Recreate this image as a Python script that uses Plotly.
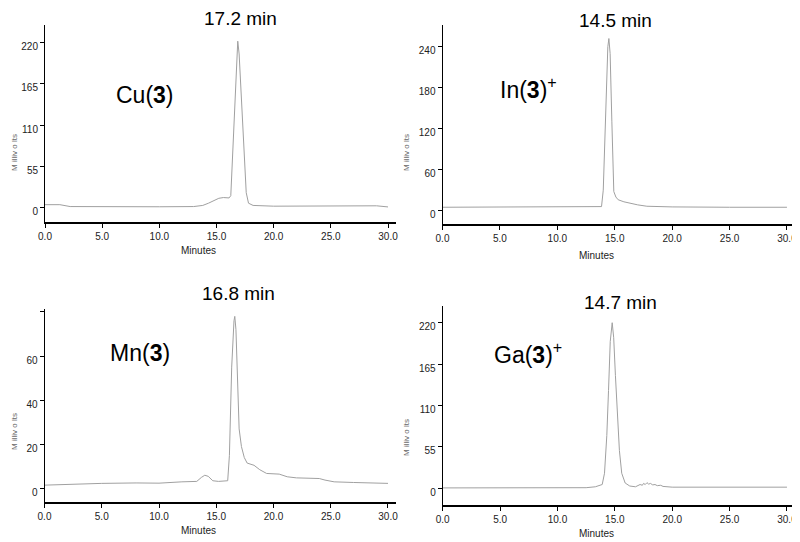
import plotly.graph_objects as go

# page body has an 8px margin: draw a 792x534 figure so it fills the 800x542 window
OFF = 8
W, H = 800 - OFF, 542 - OFF

# ---------------- data (minutes, millivolts) ----------------
cu_t = [0, 1.3, 2.2, 5, 10, 13, 13.8, 14.3, 14.8, 15.2, 15.6, 16.1, 16.25, 16.5, 16.75, 16.86,
        16.98, 17.3, 17.6, 17.8, 18.2, 20, 25, 26, 28, 29, 30]
cu_mv = [4, 4, 1.5, 1.2, 1.2, 1.5, 3, 6, 10, 12.5, 13.5, 13, 16, 110, 205, 222,
         205, 110, 20, 6, 3, 2, 2, 3, 3, 2.5, 1]

in_t = [0, 5, 10, 13.5, 13.85, 14.0, 14.2, 14.4, 14.49, 14.6, 14.75, 14.92, 15.1, 15.3, 15.8,
        16.3, 17.0, 17.8, 20, 25, 30]
in_mv = [5, 5, 5, 5, 6, 30, 140, 240, 252, 230, 130, 28, 20, 16, 13,
         11, 8.5, 6.5, 5.5, 5, 5]

mn_t = [0, 2, 3, 5, 8, 10, 12, 13.3, 13.7, 14.0, 14.3, 14.7, 15.2, 16.0, 16.15, 16.35, 16.55,
        16.62, 16.72, 16.85, 17.0, 17.2, 17.45, 17.7, 18.3, 18.8, 19.4, 20.5, 21.2, 22, 24,
        24.5, 25.3, 27, 30]
mn_mv = [1.5, 1.8, 2.2, 2.3, 2.5, 2.4, 3, 3.2, 5, 6, 5.5, 3.5, 3.2, 3.5, 15, 55, 76,
         78, 72, 45, 27, 19, 14, 11.5, 10.5, 8.5, 6.8, 6.5, 5.3, 4.8, 4.5,
         3.8, 3, 2.7, 2.3]

ga_t = [0, 4.3, 4.5, 4.8, 6, 6.3, 10, 12.5, 13.3, 13.9, 14.1, 14.3, 14.45, 14.6, 14.77, 14.9,
        15.05, 15.2, 15.4, 15.6, 15.9, 16.3, 16.8, 17.2, 17.4, 17.5, 17.65, 17.8, 17.95, 18.1,
        18.3, 18.5, 18.7, 19.0, 19.2, 20, 22, 22.5, 23.5, 24.5, 26.5, 29, 30]
ga_mv = [0.5, 0.5, 1.5, 0.5, 1.2, 0.5, 0.5, 0.8, 2, 5, 20, 70, 130, 195, 220, 200,
         150, 105, 50, 20, 7, 3, 2, 5, 4, 6.5, 5, 7.5, 5.5, 6.5, 4.5, 5, 3.5, 4, 2.5,
         1.5, 1.5, 2.5, 2.5, 1.5, 2.5, 2.5, 1.5]

x_ticks = [0, 5, 10, 15, 20, 25, 30]
x_labels = ["0.0", "5.0", "10.0", "15.0", "20.0", "25.0", "30.0"]

cu_yticks = [0, 55, 110, 165, 220]
in_yticks = [0, 60, 120, 180, 240]
mn_yticks = [0, 20, 40, 60]
mn_minor = [80]
ga_yticks = [0, 55, 110, 165, 220]

titles = ["17.2 min", "14.5 min", "16.8 min", "14.7 min"]
labels = ["Cu(<b>3</b>)", "In(<b>3</b>)<sup>+</sup>", "Mn(<b>3</b>)", "Ga(<b>3</b>)<sup>+</sup>"]
x_title = "Minutes"
y_title = "M illiv o lts"

# ---------------- layout helpers (window pixels -> paper) ----------------
def px(x):
    return (x - OFF) / W

def py(y):
    return 1 - (y - OFF) / H

TICKFONT = dict(family="Liberation Sans Narrow, Arial Narrow, Liberation Sans, Arial", size=10, color="#222")

panels = [
    dict(t=cu_t, v=cu_mv, xd=(45, 396), yd=(25, 222), xr=(0, 30.7), yr=(-19.1, 243.6),
         yt=cu_yticks, minor=[],
         title_xy=(240, 18), label_xy=(145, 95), xt_xy=(198, 250), yt_xy=(14, 153)),
    dict(t=in_t, v=in_mv, xd=(442.5, 795), yd=(25, 224), xr=(0, 30.7), yr=(-19.5, 271.8),
         yt=in_yticks, minor=[],
         title_xy=(615, 20), label_xy=(528, 88), xt_xy=(596, 255), yt_xy=(406, 152)),
    dict(t=mn_t, v=mn_mv, xd=(44.5, 396), yd=(309.3, 501.7), xr=(0, 30.7), yr=(-6.0, 81.2),
         yt=mn_yticks, minor=mn_minor,
         title_xy=(238, 293), label_xy=(140, 353), xt_xy=(198, 530), yt_xy=(14, 432)),
    dict(t=ga_t, v=ga_mv, xd=(442.7, 795), yd=(306, 505), xr=(0, 30.7), yr=(-22.2, 242.2),
         yt=ga_yticks, minor=[],
         title_xy=(620, 302), label_xy=(528, 353), xt_xy=(596, 533), yt_xy=(406, 437)),
]

fig = go.Figure()
annotations = []
layout = dict(
    width=W, height=H,
    margin=dict(l=0, r=0, t=0, b=0, autoexpand=False),
    paper_bgcolor="white", plot_bgcolor="white",
    showlegend=False,
)

for i, p in enumerate(panels, start=1):
    xa = "x" if i == 1 else f"x{i}"
    ya = "y" if i == 1 else f"y{i}"
    fig.add_trace(go.Scatter(x=p["t"], y=p["v"], mode="lines", xaxis=xa, yaxis=ya,
                             line=dict(color="#a0a0a0", width=1), hoverinfo="skip"))
    layout[f"xaxis{'' if i == 1 else i}"] = dict(
        domain=[px(p["xd"][0]), px(p["xd"][1])], range=list(p["xr"]), anchor=ya,
        tickmode="array", tickvals=x_ticks, ticktext=x_labels, automargin=False,
        showline=True, linecolor="black", linewidth=2, ticks="outside", ticklen=4,
        tickcolor="black", tickwidth=1, showgrid=False, zeroline=False, tickfont=TICKFONT,
    )
    ydict = dict(
        domain=[py(p["yd"][1]), py(p["yd"][0])], range=list(p["yr"]), anchor=xa,
        tickmode="array", tickvals=p["yt"], ticktext=[str(v) for v in p["yt"]], automargin=False,
        showline=True, linecolor="black", linewidth=1, ticks="outside", ticklen=4,
        tickcolor="black", tickwidth=1, showgrid=False, zeroline=False, tickfont=TICKFONT,
        ticklabelshift=4,
    )
    if p["minor"]:
        ydict["minor"] = dict(tickmode="array", tickvals=p["minor"], ticks="outside",
                              ticklen=4, tickcolor="black", tickwidth=1, showgrid=False)
    layout[f"yaxis{'' if i == 1 else i}"] = ydict
    tx, ty = p["title_xy"]
    annotations.append(dict(text=titles[i - 1], x=px(tx), y=py(ty), xref="paper", yref="paper",
                            showarrow=False, xanchor="center", yanchor="middle",
                            font=dict(family="Liberation Sans, Arial", size=19, color="black")))
    lx, ly = p["label_xy"]
    annotations.append(dict(text=labels[i - 1], x=px(lx), y=py(ly), xref="paper", yref="paper",
                            showarrow=False, xanchor="center", yanchor="middle",
                            font=dict(family="Liberation Sans, Arial", size=23, color="black")))
    mx, my = p["xt_xy"]
    annotations.append(dict(text=x_title, x=px(mx), y=py(my), xref="paper", yref="paper",
                            showarrow=False, xanchor="center", yanchor="middle", font=TICKFONT))
    vx, vy = p["yt_xy"]
    annotations.append(dict(text=y_title, x=px(vx), y=py(vy), xref="paper", yref="paper",
                            showarrow=False, xanchor="center", yanchor="middle", textangle=-90,
                            font=dict(family="Liberation Sans, Arial", size=8, color="#666")))

layout["annotations"] = annotations
fig.update_layout(**layout)
fig.write_html("out.html")
